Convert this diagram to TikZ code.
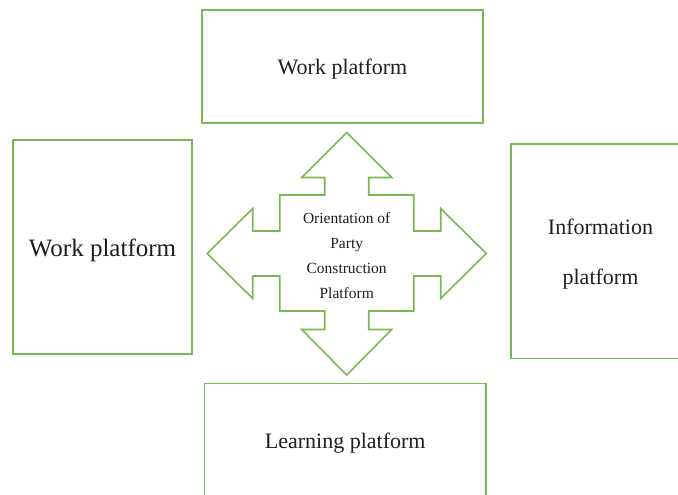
\documentclass[tikz,border=0pt]{standalone}
\usepackage{fontspec}
\setmainfont{Liberation Serif}
\definecolor{boxgreen}{RGB}{122,184,84}
\definecolor{txt}{RGB}{30,30,30}
\newcommand{\dn}[1]{\raisebox{-3pt}[\height][\depth]{#1}}
\tikzset{
  box/.style={draw=boxgreen, line width=1.6pt, rectangle, inner sep=0pt, align=center, text=txt},
  arrowshape/.style={draw=boxgreen, line width=1.6pt, line join=miter},
}
\begin{document}
\begin{tikzpicture}[x=1pt,y=-1pt]
\useasboundingbox (0,0) rectangle (678,495);
\clip (0,0) rectangle (678,495);
% boxes
\node[box, minimum width=281pt, minimum height=113pt, font=\fontsize{22}{26}\selectfont] (top) at (342.5,66.5) {\dn{Work platform}};
\node[box, minimum width=179pt, minimum height=214pt, font=\fontsize{25}{30}\selectfont] (left) at (102.5,247) {\dn{Work platform}};
\node[box, minimum width=179pt, minimum height=214.7pt, font=\fontsize{22}{50}\selectfont] (right) at (600.5,251.3) {\dn{Information}\\\dn{platform}};
\node[box, minimum width=281.7pt, minimum height=113pt, font=\fontsize{22}{26}\selectfont] (bottom) at (345.2,439.8) {\dn{Learning platform}};
% central four-way arrow
\coordinate (c) at (346.7,253.5);
\draw[arrowshape] (c)
  ++(0,-121) coordinate (ctop)
  -- ++(45,45) -- ++(-23,0) -- ++(0,17.5) -- ++(45,0) -- ++(0,36)
  -- ++(27,0) -- ++(0,-22.5) -- ++(45.5,45) coordinate (cright)
  -- ++(-45.5,45) -- ++(0,-22.5) -- ++(-27,0) -- ++(0,35) -- ++(-45,0) -- ++(0,18.5)
  -- ++(23,0) -- ++(-45,45.5) coordinate (cbottom)
  -- ++(-45,-45.5) -- ++(23,0) -- ++(0,-18.5) -- ++(-45,0) -- ++(0,-35)
  -- ++(-27,0) -- ++(0,22.5) -- ++(-45.5,-45) coordinate (cleft)
  -- ++(45.5,-45) -- ++(0,22.5) -- ++(27,0) -- ++(0,-36) -- ++(45,0) -- ++(0,-17.5)
  -- ++(-23,0) -- cycle;
\node[align=center, text=txt, font=\fontsize{15.5}{25}\selectfont, inner sep=0pt] (centre) at (346.7,256) {Orientation of\\Party\\Construction\\Platform};
\end{tikzpicture}
\end{document}
